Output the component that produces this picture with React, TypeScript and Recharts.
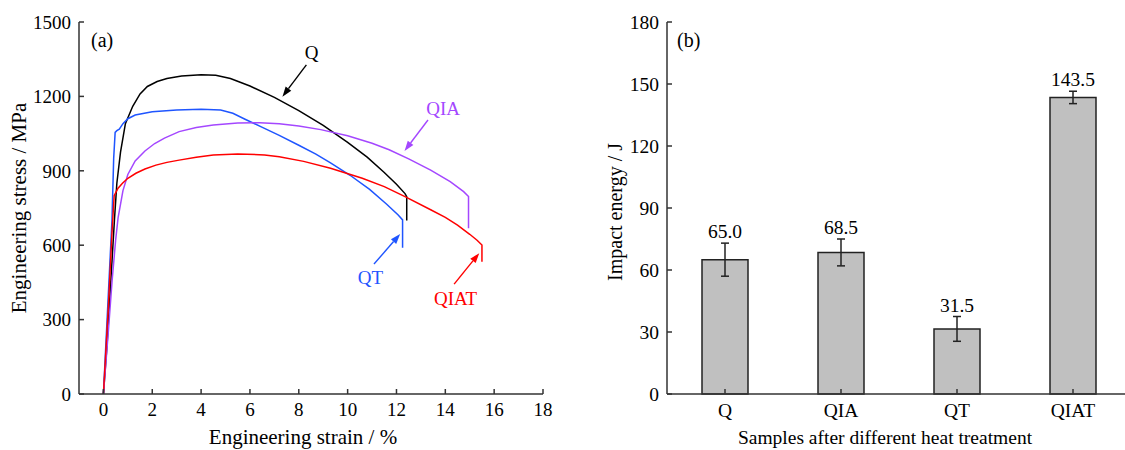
import {
  LineChart,
  Line,
  BarChart,
  Bar,
  XAxis,
  YAxis,
  ErrorBar,
  LabelList,
  ReferenceLine,
  ReferenceDot,
  Customized,
} from "recharts";

const FONT = '"Liberation Serif", "Times New Roman", serif';
const AXIS = "#333";

// (a) engineering stress-strain curves: strain in %, stress in MPa
const qStrain = [0, 0.15, 0.3, 0.45, 0.55, 0.7, 0.9, 1.2, 1.5, 1.8, 2.2, 2.6, 3.2, 4.0, 4.6, 5.2, 6.0, 7.0, 8.0, 9.0, 10.0, 10.8, 11.5, 12.0, 12.35, 12.42, 12.42];
const qStress = [0, 200, 450, 700, 850, 975, 1090, 1160, 1210, 1240, 1260, 1272, 1282, 1287, 1285, 1272, 1242, 1196, 1143, 1083, 1015, 955, 893, 846, 808, 796, 700];

const qtStrain = [0, 0.2, 0.35, 0.42, 0.48, 0.55, 0.65, 0.8, 1.0, 1.3, 2.0, 3.0, 4.0, 4.8, 5.3, 5.8, 6.4, 7.2, 8.0, 8.7, 9.3, 10.1, 10.9, 11.6, 12.07, 12.25, 12.25];
const qtStress = [0, 400, 700, 950, 1055, 1062, 1068, 1090, 1110, 1125, 1138, 1145, 1148, 1145, 1132, 1108, 1080, 1043, 1003, 967, 932, 882, 825, 765, 722, 702, 590];

const qiaStrain = [0, 0.2, 0.35, 0.5, 0.6, 0.8, 1.0, 1.3, 1.7, 2.1, 2.5, 3.1, 3.8, 4.5, 5.5, 6.4, 7.2, 8.0, 8.9, 10.0, 11.0, 11.7, 12.5, 13.4, 14.2, 14.75, 14.95, 14.95];
const qiaStress = [0, 250, 450, 620, 710, 820, 885, 940, 980, 1010, 1032, 1058, 1075, 1085, 1093, 1094, 1090, 1081, 1066, 1041, 1011, 985, 948, 903, 856, 816, 796, 668];

const qiatStrain = [0, 0.2, 0.35, 0.44, 0.6, 0.78, 1.0, 1.33, 1.7, 2.15, 2.6, 3.1, 3.8, 4.5, 5.5, 6.6, 7.2, 8.2, 9.3, 10.6, 11.5, 12.35, 13.4, 14.0, 14.5, 15.0, 15.3, 15.5, 15.5];
const qiatStress = [0, 350, 650, 800, 830, 850, 870, 890, 907, 923, 934, 943, 955, 964, 968, 964, 957, 938, 910, 870, 836, 796, 743, 712, 681, 644, 620, 601, 533];

const strainTicks = [0, 2, 4, 6, 8, 10, 12, 14, 16, 18];
const stressTicks = [0, 300, 600, 900, 1200, 1500];

// (b) impact energy
const samples = ["Q", "QIA", "QT", "QIAT"];
const impactEnergy = [65.0, 68.5, 31.5, 143.5];
const impactError = [8, 6.5, 6, 3];
const energyTicks = [0, 30, 60, 90, 120, 150, 180];

const toPoints = (xs: number[], ys: number[]) => xs.map((x, i) => ({ x, y: ys[i] }));

const curves = [
  { name: "Q", color: "#000000", data: toPoints(qStrain, qStress) },
  { name: "QT", color: "#1f55ff", data: toPoints(qtStrain, qtStress) },
  { name: "QIA", color: "#a447ff", data: toPoints(qiaStrain, qiaStress) },
  { name: "QIAT", color: "#ff0000", data: toPoints(qiatStrain, qiatStress) },
];

// curve labels and arrows (start -> tip) in data units
const notes = [
  { text: "Q", color: "#000000", at: [8.53, 1379], from: [8.31, 1327], to: [7.33, 1199] },
  { text: "QIA", color: "#a447ff", at: [13.91, 1153], from: [13.29, 1105], to: [12.33, 980] },
  { text: "QT", color: "#1f55ff", at: [10.93, 468], from: [11.08, 524], to: [12.15, 645] },
  { text: "QIAT", color: "#ff0000", at: [14.42, 387], from: [14.36, 443], to: [15.39, 568] },
];

const barData = samples.map((name, i) => ({ name, value: impactEnergy[i], err: impactError[i] }));

const arrowShape = (color: string) => (p: any) => {
  const { x1, y1, x2, y2 } = p;
  const dx = x2 - x1;
  const dy = y2 - y1;
  const len = Math.sqrt(dx * dx + dy * dy);
  const ux = dx / len;
  const uy = dy / len;
  const head = 10;
  const half = 3.5;
  const bx = x2 - ux * head;
  const by = y2 - uy * head;
  return (
    <g>
      <line x1={x1} y1={y1} x2={bx} y2={by} stroke={color} strokeWidth={1.4} />
      <polygon
        points={`${x2},${y2} ${bx - uy * half},${by + ux * half} ${bx + uy * half},${by - ux * half}`}
        fill={color}
      />
    </g>
  );
};

const tickStyle = { fill: "#000", fontSize: 19, fontFamily: FONT };
const tickStyleB = { fill: "#000", fontSize: 19.5, fontFamily: FONT };

const renderValue = (p: any) => {
  const { x, y, width, height, value, index } = p;
  const perUnit = height / value;
  const top = y - impactError[index] * perUnit;
  return (
    <text x={x + width / 2} y={top - 5} textAnchor="middle" fontSize={19.5} fill="#000" fontFamily={FONT}>
      {Number(value).toFixed(1)}
    </text>
  );
};

export default function App() {
  return (
    <div
      style={{
        position: "fixed",
        left: 0,
        top: 0,
        width: 1125,
        height: 450,
        overflow: "hidden",
        background: "#fff",
        fontFamily: FONT,
      }}
    >
      <div style={{ position: "absolute", left: 0, top: 0 }}>
        <LineChart width={560} height={450} margin={{ top: 22, right: 17, bottom: 0, left: 0 }}>
          {curves.map((c) => (
            <Line
              key={c.name}
              data={c.data}
              dataKey="y"
              type="linear"
              stroke={c.color}
              strokeWidth={1.5}
              dot={false}
              activeDot={false}
              isAnimationActive={false}
            />
          ))}
          {notes.map((n) => (
            <ReferenceLine
              key={`arrow-${n.text}`}
              segment={[
                { x: n.from[0], y: n.from[1] },
                { x: n.to[0], y: n.to[1] },
              ]}
              shape={arrowShape(n.color)}
            />
          ))}
          {notes.map((n) => (
            <ReferenceDot
              key={`note-${n.text}`}
              x={n.at[0]}
              y={n.at[1]}
              r={1}
              shape={(p: any) => (
                <text x={p.cx} y={p.cy} textAnchor="middle" dominantBaseline="central" fontSize={19} fill={n.color} fontFamily={FONT}>
                  {n.text}
                </text>
              )}
            />
          ))}
          <XAxis
            type="number"
            dataKey="x"
            domain={[-1, 18]}
            ticks={strainTicks}
            allowDataOverflow
            height={56}
            tickSize={-5}
            tickMargin={14}
            tick={tickStyle}
            stroke={AXIS}
            strokeWidth={1.5}
            label={{
              content: () => (
                <text x={303} y={444} textAnchor="middle" fontSize={21} fill="#000" fontFamily={FONT}>
                  Engineering strain / %
                </text>
              ),
            }}
          />
          <XAxis xAxisId="top" orientation="top" type="number" domain={[-1, 18]} height={0} tick={false} tickLine={false} stroke={AXIS} strokeWidth={1.5} />
          <YAxis
            type="number"
            domain={[0, 1500]}
            ticks={stressTicks}
            width={79}
            tickSize={-5}
            tickMargin={13}
            tick={tickStyle}
            stroke={AXIS}
            strokeWidth={1.5}
            label={{
              content: () => (
                <text x={19} y={208} transform="rotate(-90, 19, 208)" textAnchor="middle" dominantBaseline="central" fontSize={21} fill="#000" fontFamily={FONT}>
                  Engineering stress / MPa
                </text>
              ),
            }}
          />
          <YAxis yAxisId="right" orientation="right" type="number" domain={[0, 1500]} width={0} tick={false} tickLine={false} stroke={AXIS} strokeWidth={1.5} />
          <Customized
            component={() => (
              <text x={91} y={47} fontSize={20} fill="#000" fontFamily={FONT}>
                (a)
              </text>
            )}
          />
        </LineChart>
      </div>

      <div style={{ position: "absolute", left: 560, top: 0 }}>
        <BarChart width={600} height={450} data={barData} margin={{ top: 22, right: 29, bottom: 0, left: 0 }}>
          <Bar dataKey="value" fill="#c0c0c0" stroke="#222" strokeWidth={1.5} barSize={46} isAnimationActive={false}>
            <ErrorBar dataKey="err" width={4} stroke="#222" strokeWidth={1.5} />
            <LabelList dataKey="value" content={renderValue} />
          </Bar>
          <XAxis
            dataKey="name"
            height={56}
            tickSize={-5}
            tickMargin={14}
            tick={tickStyleB}
            stroke={AXIS}
            strokeWidth={1.5}
            label={{
              content: () => (
                <text x={325} y={444} textAnchor="middle" fontSize={19.5} fill="#000" fontFamily={FONT}>
                  Samples after different heat treatment
                </text>
              ),
            }}
          />
          <XAxis xAxisId="top" orientation="top" dataKey="name" height={0} tick={false} tickLine={false} stroke={AXIS} strokeWidth={1.5} />
          <YAxis
            type="number"
            domain={[0, 180]}
            ticks={energyTicks}
            width={107}
            tickSize={-5}
            tickMargin={13}
            tick={tickStyleB}
            stroke={AXIS}
            strokeWidth={1.5}
            label={{
              content: () => (
                <text x={55} y={212} transform="rotate(-90, 55, 212)" textAnchor="middle" dominantBaseline="central" fontSize={20} fill="#000" fontFamily={FONT}>
                  Impact energy / J
                </text>
              ),
            }}
          />
          <YAxis yAxisId="right" orientation="right" type="number" domain={[0, 180]} width={0} tick={false} tickLine={false} stroke={AXIS} strokeWidth={1.5} />
          <Customized
            component={() => (
              <text x={117} y={47} fontSize={20} fill="#000" fontFamily={FONT}>
                (b)
              </text>
            )}
          />
        </BarChart>
      </div>
    </div>
  );
}
